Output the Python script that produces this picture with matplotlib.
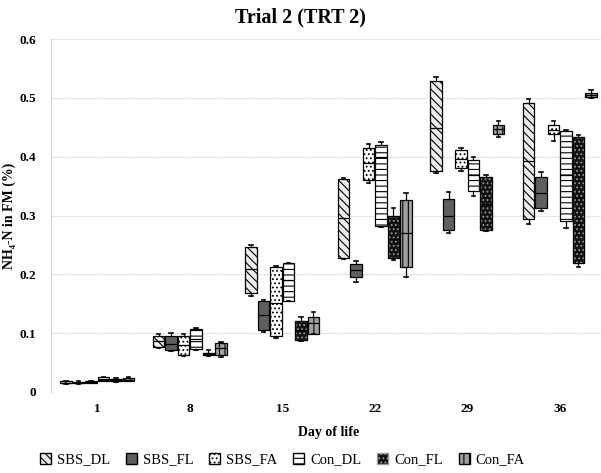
import matplotlib
matplotlib.use("Agg")
import matplotlib.pyplot as plt
from matplotlib.patches import PathPatch, Patch

plt.rcParams["font.family"] = ["Liberation Serif", "DejaVu Serif"]
plt.rcParams["hatch.linewidth"] = 0.8

# days on the x axis
days = ["1", "8", "15", "22", "29", "36"]

# five-number summaries per day: min, q1, median, q3, max
sbs_dl = [
    [0.014, 0.015, 0.016, 0.018, 0.019],
    [0.075, 0.076, 0.087, 0.095, 0.099],
    [0.163, 0.168, 0.209, 0.247, 0.250],
    [0.226, 0.228, 0.295, 0.362, 0.363],
    [0.372, 0.375, 0.449, 0.528, 0.535],
    [0.285, 0.294, 0.393, 0.491, 0.498],
]
sbs_fl = [
    [0.014, 0.015, 0.016, 0.017, 0.018],
    [0.070, 0.071, 0.082, 0.096, 0.100],
    [0.102, 0.105, 0.131, 0.155, 0.157],
    [0.187, 0.196, 0.207, 0.217, 0.223],
    [0.270, 0.276, 0.300, 0.328, 0.340],
    [0.307, 0.312, 0.338, 0.366, 0.374],
]
sbs_fa = [
    [0.015, 0.016, 0.017, 0.018, 0.019],
    [0.062, 0.063, 0.080, 0.096, 0.098],
    [0.091, 0.095, 0.152, 0.212, 0.214],
    [0.355, 0.361, 0.389, 0.414, 0.421],
    [0.375, 0.380, 0.396, 0.412, 0.414],
    [0.427, 0.439, 0.446, 0.453, 0.461],
]
con_dl = [
    [0.018, 0.019, 0.022, 0.025, 0.026],
    [0.072, 0.073, 0.090, 0.107, 0.109],
    [0.155, 0.155, 0.190, 0.219, 0.220],
    [0.281, 0.282, 0.400, 0.420, 0.425],
    [0.333, 0.342, 0.368, 0.395, 0.399],
    [0.278, 0.291, 0.369, 0.444, 0.446],
]
con_fl = [
    [0.017, 0.018, 0.020, 0.022, 0.023],
    [0.062, 0.063, 0.064, 0.066, 0.071],
    [0.086, 0.088, 0.105, 0.121, 0.128],
    [0.224, 0.228, 0.260, 0.299, 0.312],
    [0.273, 0.276, 0.320, 0.366, 0.368],
    [0.213, 0.219, 0.330, 0.434, 0.437],
]
con_fa = [
    [0.018, 0.019, 0.021, 0.024, 0.025],
    [0.060, 0.063, 0.075, 0.084, 0.085],
    [0.098, 0.098, 0.117, 0.127, 0.136],
    [0.196, 0.213, 0.270, 0.327, 0.339],
    [0.433, 0.439, 0.447, 0.454, 0.460],
    [0.500, 0.502, 0.505, 0.508, 0.514],
]

series = [
    ("SBS_DL", sbs_dl, "#ececec", "\\\\\\\\"),
    ("SBS_FL", sbs_fl, "#5f5f5f", None),
    ("SBS_FA", sbs_fa, "#ffffff", "...."),
    ("Con_DL", con_dl, "#ffffff", "---"),
    ("Con_FL", con_fl, "#111111", "...."),
    ("Con_FA", con_fa, "#a0a0a0", "|||"),
]

fig = plt.figure(figsize=(6.01, 4.73), dpi=100)
ax = fig.add_axes([51 / 601, 1 - 392 / 473, 555 / 601, 353 / 473])

width = 0.135
for i, (name, vals, face, hatch) in enumerate(series):
    stats = [
        {"whislo": v[0], "q1": v[1], "med": v[2], "q3": v[3], "whishi": v[4]}
        for v in vals
    ]
    pos = [d + (i - 2.5) * width for d in range(len(days))]
    bp = ax.bxp(
        stats,
        positions=pos,
        widths=width * 0.92,
        patch_artist=True,
        showfliers=False,
        boxprops=dict(facecolor=face, edgecolor="black", linewidth=0.9),
        medianprops=dict(color="black", linewidth=0.9),
        whiskerprops=dict(color="black", linewidth=0.9),
        capprops=dict(color="black", linewidth=1.2),
        capwidths=width * 0.3,
        manage_ticks=False,
    )
    for box in bp["boxes"]:
        if hatch:
            box.set_hatch(hatch)
        if name == "Con_FL":
            # light dots on dark box, then redraw the outline
            box.set_edgecolor("#9a9a9a")
            ax.add_patch(PathPatch(box.get_path(), fc="none", ec="black",
                                   lw=0.9, zorder=box.get_zorder() + 0.1))

ax.set_xlim(-0.5, len(days) - 0.5)
ax.set_ylim(0, 0.6)
ax.set_xticks(range(len(days)))
ax.set_xticklabels(days)
ax.set_yticks([0, 0.1, 0.2, 0.3, 0.4, 0.5, 0.6])
ax.set_yticklabels(["0", "0.1", "0.2", "0.3", "0.4", "0.5", "0.6"])
ax.tick_params(axis="y", length=0, labelsize=9.5, pad=11)
ax.tick_params(axis="x", length=0, labelsize=9.5, pad=8)
for lab in ax.get_xticklabels() + ax.get_yticklabels():
    lab.set_fontweight("bold")

ax.grid(axis="y", color="#d9d9d9", linestyle=(0, (1, 0.5)), linewidth=0.9)
ax.set_axisbelow(True)
for s in ["top", "right", "bottom"]:
    ax.spines[s].set_visible(False)
ax.spines["left"].set_color("#d0d0d0")

ax.set_ylabel("NH\u2084-N in FM (%)", fontsize=10, fontweight="bold")
ax.yaxis.set_label_coords(-0.063, 0.5)
ax.set_xlabel("Day of life", fontsize=10, fontweight="bold", labelpad=8)
fig.suptitle("Trial 2 (TRT 2)", fontsize=14.5, fontweight="bold", x=0.5, y=0.985)

handles = [Patch(facecolor=face, edgecolor="black" if name != "Con_FL" else "#9a9a9a",
                 hatch=hatch, label=name)
           for name, _, face, hatch in series]
fig.legend(handles=handles, loc="center", bbox_to_anchor=(0.47, 0.028), ncol=6,
           frameon=False, fontsize=10.5, handlelength=0.75, handleheight=0.75,
           handletextpad=0.4, columnspacing=1.1)

fig.savefig("out.png", dpi=100)
